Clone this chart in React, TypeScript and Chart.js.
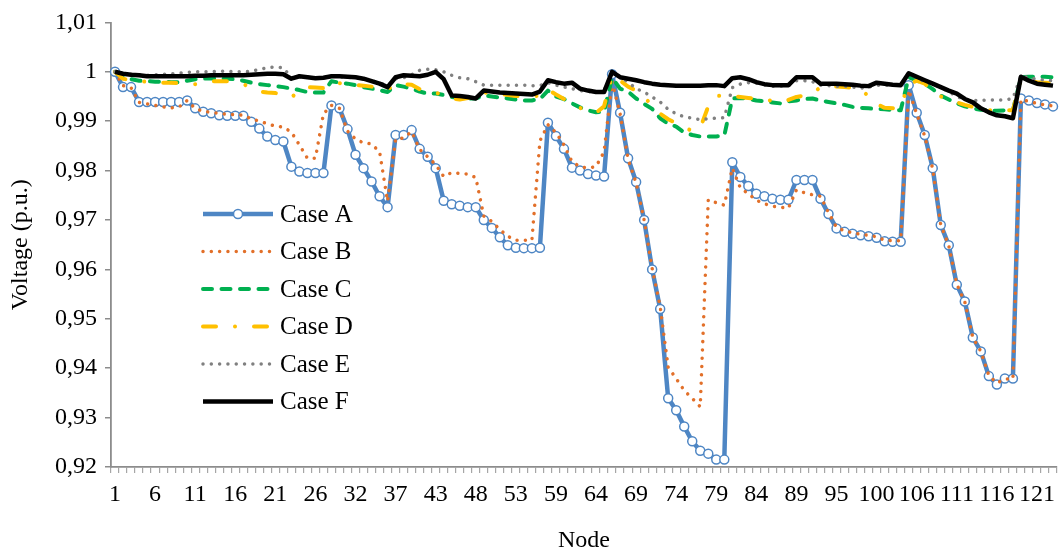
import React, { useEffect, useRef } from "react";
import { Chart, registerables } from "chart.js";

Chart.register(...registerables);

const nodes = [
  1, 2, 3, 4, 5, 6, 7, 8, 9, 10, 11, 12, 13, 14, 15, 16, 17, 18, 19, 20, 21, 22, 23, 24, 25, 26,
  28, 29, 30, 31, 32, 33, 34, 35, 36, 37, 38, 40, 41, 42, 43, 44, 45, 46, 47, 48, 49, 50, 51, 52, 53,
  54, 56, 57, 58, 59, 60, 61, 62, 63, 64, 65, 66, 67, 68, 69, 70, 71, 72, 73, 74, 75, 76, 77, 78, 79,
  80, 81, 82, 83, 84, 85, 86, 87, 88, 89, 90, 92, 93, 94, 95, 96, 97, 98, 99, 100, 101, 102, 104, 105,
  106, 107, 108, 109, 110, 111, 112, 113, 114, 115, 116, 117, 118, 119, 120, 121, 122, 123,
];

const caseA = [
  1.0, 0.9969, 0.9969, 0.9939, 0.9939, 0.9939, 0.9939, 0.9939, 0.9939, 0.9942,
  0.9926, 0.9919, 0.9916, 0.9912, 0.9911, 0.9911, 0.9911, 0.9899, 0.9885, 0.9869,
  0.9862, 0.9859, 0.9808, 0.9798, 0.9795, 0.9795, 0.9795, 0.9932, 0.9926, 0.9884,
  0.9832, 0.9805, 0.9778, 0.9748, 0.9726, 0.9872, 0.9872, 0.9882, 0.9844, 0.9828,
  0.9805, 0.9739, 0.9732, 0.9729, 0.9726, 0.9726, 0.97, 0.9684, 0.9665, 0.9649,
  0.9644, 0.9643, 0.9643, 0.9644, 0.9897, 0.987, 0.9844, 0.9806, 0.98, 0.9793,
  0.979, 0.9788, 0.9995, 0.9917, 0.9825, 0.9777, 0.97, 0.96, 0.952, 0.9339,
  0.9315, 0.9282, 0.9252, 0.9233, 0.9227, 0.9215, 0.9215, 0.9817, 0.9787, 0.9769,
  0.9753, 0.9748, 0.9743, 0.9741, 0.9741, 0.9781, 0.9781, 0.9781, 0.9743, 0.9712,
  0.9683, 0.9676, 0.9672, 0.9669, 0.9667, 0.9664, 0.9657, 0.9656, 0.9656, 0.9973,
  0.9917, 0.9872, 0.9805, 0.969, 0.9649, 0.9569, 0.9535, 0.9462, 0.9434, 0.9384,
  0.9367, 0.9379, 0.9379, 0.9946, 0.9942, 0.9937, 0.9934, 0.993,
];

const caseB = [
  1.0, 0.9972, 0.9968, 0.9938, 0.9935, 0.9932, 0.9929, 0.9927, 0.9929, 0.9942,
  0.9926, 0.992, 0.9918, 0.9916, 0.9914, 0.9913, 0.9912, 0.9905, 0.99, 0.9895,
  0.989, 0.9888, 0.9878, 0.9852, 0.9825, 0.9825, 0.9915, 0.9932, 0.9926, 0.988,
  0.9864, 0.9856, 0.9854, 0.9838, 0.9738, 0.9864, 0.9866, 0.9879, 0.9843, 0.9828,
  0.9812, 0.9788, 0.9796, 0.9794, 0.9793, 0.9786, 0.9708, 0.9697, 0.9681, 0.9667,
  0.9659, 0.9659, 0.9659, 0.986, 0.9893, 0.9877, 0.9852, 0.9818, 0.9808, 0.9805,
  0.9808, 0.9838, 0.998, 0.9915, 0.9823, 0.9775, 0.97, 0.9602, 0.9525, 0.9402,
  0.9379, 0.9355, 0.9339, 0.9322, 0.9741, 0.9735, 0.973, 0.9805, 0.9765, 0.9753,
  0.974, 0.9733, 0.9728, 0.9726, 0.9724, 0.9761, 0.9755, 0.9751, 0.9748, 0.9715,
  0.9685, 0.9678, 0.9674, 0.9671, 0.9669, 0.9666, 0.9659, 0.9658, 0.9658, 0.9963,
  0.9915, 0.987, 0.9803, 0.969, 0.9648, 0.957, 0.9534, 0.9462, 0.9434, 0.9385,
  0.937, 0.9378, 0.9378, 0.9944, 0.994, 0.9936, 0.9933, 0.9931,
];

const caseC = [
  1.0, 0.9989, 0.9985, 0.9982, 0.9981, 0.998, 0.998, 0.9979, 0.9979, 0.9982,
  0.9985, 0.9986, 0.9987, 0.9986, 0.9986, 0.9985, 0.9982, 0.9978, 0.9975, 0.9973,
  0.9971, 0.9969, 0.9966, 0.9963, 0.9959, 0.9958, 0.9958, 0.9981, 0.9978, 0.9976,
  0.9973, 0.9969, 0.9966, 0.9963, 0.9959, 0.9973, 0.997, 0.9966, 0.996, 0.9956,
  0.9956, 0.9953, 0.9949, 0.9947, 0.9946, 0.9946, 0.9952, 0.995, 0.9948, 0.9946,
  0.9944, 0.9942, 0.9942, 0.9945, 0.9962, 0.995, 0.9945, 0.9936, 0.9928, 0.9922,
  0.9918, 0.9919, 0.9988, 0.9966, 0.996, 0.9946, 0.9935, 0.9925, 0.9906, 0.9895,
  0.9889, 0.9877, 0.9872, 0.9869, 0.9869, 0.9869, 0.9871, 0.9946, 0.9947, 0.9945,
  0.9942, 0.994, 0.9938, 0.9936, 0.994, 0.9942, 0.9945, 0.9946, 0.9942, 0.9939,
  0.9936, 0.9933, 0.9929, 0.9927, 0.9926, 0.9925, 0.9924, 0.9923, 0.9922, 0.9989,
  0.9982, 0.9976, 0.9965, 0.9952, 0.9944, 0.9936, 0.993, 0.9926, 0.9923, 0.9922,
  0.9921, 0.9922, 0.9922, 0.9989, 0.999, 0.999, 0.999, 0.9989,
];

const caseD = [
  1.0, 0.9986, 0.9983, 0.9981, 0.998, 0.9979, 0.9978, 0.9978, 0.9977, 0.9976,
  0.9975, 0.9979, 0.9981, 0.9981, 0.9981, 0.9978, 0.9975, 0.9968, 0.996, 0.9958,
  0.9957, 0.9954, 0.9948, 0.9962, 0.9969, 0.9968, 0.9967, 0.9979, 0.9977, 0.9975,
  0.9973, 0.9972, 0.997, 0.9967, 0.9964, 0.9976, 0.9975, 0.9974, 0.9965, 0.9961,
  0.9958, 0.9952, 0.9946, 0.9944, 0.9947, 0.9946, 0.9958, 0.9957, 0.9955, 0.9953,
  0.9951, 0.995, 0.995, 0.9952, 0.9964, 0.9954, 0.9945, 0.9936, 0.9927, 0.9921,
  0.9917, 0.993, 0.9992, 0.9982, 0.997, 0.9962, 0.9948, 0.9933, 0.9915, 0.9904,
  0.9896, 0.9888, 0.988, 0.9886, 0.993, 0.9951, 0.9952, 0.9951, 0.9949, 0.9947,
  0.9945, 0.9944, 0.9941, 0.9938, 0.9943, 0.9949, 0.9952, 0.9956, 0.9969, 0.997,
  0.997, 0.9969, 0.9968, 0.9966, 0.995, 0.9935, 0.9927, 0.9926, 0.993, 0.9975,
  0.9982, 0.9976, 0.996, 0.995, 0.9944, 0.9938, 0.9933, 0.9929, 0.9924, 0.9922,
  0.9922, 0.9922, 0.9922, 0.9985, 0.9982, 0.9979, 0.9978, 0.9977,
];

const caseE = [
  1.0, 0.9996, 0.9995, 0.9994, 0.9993, 0.9994, 0.9995, 0.9996, 0.9997, 0.9999,
  1.0, 1.0, 1.0, 1.0001, 1.0001, 1.0, 1.0, 1.0001, 1.0005, 1.0008,
  1.001, 1.0008, 0.9988, 0.999, 0.9989, 0.9988, 0.9988, 0.9991, 0.999, 0.9989,
  0.9988, 0.9986, 0.9982, 0.9978, 0.9972, 0.9986, 0.9988, 0.9994, 1.0003, 1.0005,
  1.0004, 1.0, 0.9993, 0.9988, 0.9986, 0.998, 0.9973, 0.9973, 0.9973, 0.9973,
  0.9973, 0.9973, 0.9972, 0.9972, 0.9978, 0.9973, 0.9969, 0.9966, 0.9962, 0.996,
  0.9959, 0.9962, 0.9998, 0.999, 0.9979, 0.9966, 0.9959, 0.9949, 0.9939, 0.9924,
  0.9915, 0.9909, 0.9906, 0.9903, 0.9905, 0.9906, 0.9907, 0.9968, 0.9975, 0.9978,
  0.9977, 0.9974, 0.9971, 0.9971, 0.9972, 0.9982, 0.9982, 0.998, 0.9973, 0.9972,
  0.9971, 0.9971, 0.9969, 0.9967, 0.9969, 0.9973, 0.9973, 0.9973, 0.9974, 0.9995,
  0.9988, 0.998, 0.9975, 0.9968, 0.996, 0.995, 0.9944, 0.9942, 0.9942, 0.9943,
  0.9943, 0.9943, 0.9946, 0.9992, 0.9988, 0.9985, 0.9983, 0.9982,
];

const caseF = [
  1.0, 0.9996, 0.9994, 0.9993, 0.9991, 0.9991, 0.9991, 0.9991, 0.9991, 0.9991,
  0.9992, 0.9992, 0.9993, 0.9993, 0.9993, 0.9993, 0.9993, 0.9994, 0.9995, 0.9996,
  0.9996, 0.9995, 0.9986, 0.9991, 0.9989, 0.9987, 0.9988, 0.9991, 0.9991, 0.999,
  0.9989, 0.9986, 0.9981, 0.9976, 0.9969, 0.9989, 0.9993, 0.9992, 0.9991, 0.9994,
  1.0, 0.9985, 0.9952, 0.9951, 0.9949, 0.9946, 0.9962, 0.996, 0.9958, 0.9957,
  0.9956, 0.9955, 0.9954, 0.996, 0.9983, 0.9979, 0.9976, 0.9978, 0.9966, 0.9962,
  0.9959, 0.9959, 1.0, 0.9989, 0.9986, 0.9983, 0.9979, 0.9976, 0.9974, 0.9973,
  0.9972, 0.9972, 0.9972, 0.9972, 0.9973, 0.9973, 0.9971, 0.9987, 0.9989, 0.9985,
  0.9979, 0.9975, 0.9973, 0.9973, 0.9973, 0.9989, 0.9989, 0.9989, 0.9976, 0.9976,
  0.9976, 0.9975, 0.9974, 0.9972, 0.9971, 0.9978, 0.9976, 0.9974, 0.9973, 0.9997,
  0.999, 0.9983, 0.9976, 0.9969, 0.9962, 0.9956, 0.9945, 0.9938, 0.9926, 0.9918,
  0.9912, 0.991, 0.9906, 0.999, 0.9982, 0.9976, 0.9974, 0.9972,
];

const seriesNames = ["Case A", "Case B", "Case C", "Case D", "Case E", "Case F"];
const yTicks = [0.92, 0.93, 0.94, 0.95, 0.96, 0.97, 0.98, 0.99, 1.0, 1.01];

const FONT = "'Liberation Serif', 'DejaVu Serif', serif";

const legendPlugin = {
  id: "insideLegend",
  afterDraw(chart: any) {
    const ctx = chart.ctx;
    const x0 = 203;
    const x1 = 273;
    const tx = 280;
    const ys = [214, 251.5, 289, 326.5, 364, 401.5];
    chart.data.datasets.forEach((ds: any, i: number) => {
      const y = ys[i];
      ctx.save();
      ctx.strokeStyle = ds.borderColor;
      ctx.lineWidth = ds.borderWidth;
      ctx.lineCap = ds.borderCapStyle || "butt";
      ctx.setLineDash(ds.borderDash || []);
      ctx.beginPath();
      ctx.moveTo(x0, y);
      ctx.lineTo(x1, y);
      ctx.stroke();
      ctx.setLineDash([]);
      if (ds.pointRadius > 0) {
        ctx.beginPath();
        ctx.arc((x0 + x1) / 2, y, ds.pointRadius, 0, Math.PI * 2);
        ctx.fillStyle = ds.pointBackgroundColor;
        ctx.fill();
        ctx.lineWidth = ds.pointBorderWidth;
        ctx.strokeStyle = ds.pointBorderColor;
        ctx.stroke();
      }
      ctx.fillStyle = "#000";
      ctx.font = `25px ${FONT}`;
      ctx.textBaseline = "middle";
      ctx.textAlign = "left";
      ctx.fillText(ds.label, tx, y + 1);
      ctx.restore();
    });
  },
};

export default function App() {
  const ref = useRef<HTMLCanvasElement | null>(null);

  useEffect(() => {
    document.body.style.margin = "0";
    if (!ref.current) return;
    const common = { tension: 0, fill: false, pointHitRadius: 0, borderJoinStyle: "round" };
    const chart = new Chart(ref.current, {
      type: "line",
      data: {
        labels: nodes.map(String),
        datasets: [
          {
            ...common,
            label: seriesNames[0],
            data: caseA,
            borderColor: "#4e86c4",
            borderWidth: 4.5,
            pointRadius: 4.5,
            pointBorderWidth: 1.5,
            pointBackgroundColor: "#ffffff",
            pointBorderColor: "#4e86c4",
            order: 6,
          },
          {
            ...common,
            label: seriesNames[1],
            data: caseB,
            borderColor: "#e2702a",
            borderWidth: 3.5,
            borderDash: [0.01, 8.3],
            borderCapStyle: "round",
            pointRadius: 0,
            order: 5,
          },
          {
            ...common,
            label: seriesNames[2],
            data: caseC,
            borderColor: "#00b050",
            borderWidth: 4,
            borderDash: [9, 9.5],
            borderCapStyle: "round",
            pointRadius: 0,
            order: 4,
          },
          {
            ...common,
            label: seriesNames[3],
            data: caseD,
            borderColor: "#ffc000",
            borderWidth: 4,
            borderDash: [13, 19, 0.01, 19],
            borderCapStyle: "round",
            pointRadius: 0,
            order: 3,
          },
          {
            ...common,
            label: seriesNames[4],
            data: caseE,
            borderColor: "#808080",
            borderWidth: 3.5,
            borderDash: [0.01, 8.3],
            borderCapStyle: "round",
            pointRadius: 0,
            order: 2,
          },
          {
            ...common,
            label: seriesNames[5],
            data: caseF,
            borderColor: "#000000",
            borderWidth: 4.5,
            pointRadius: 0,
            order: 1,
          },
        ],
      },
      options: {
        animation: false,
        responsive: true,
        maintainAspectRatio: false,
        layout: { padding: { top: 20, right: 5, left: 0, bottom: 0 } },
        plugins: { legend: { display: false }, tooltip: { enabled: false } },
        scales: {
          x: {
            type: "category",
            offset: true,
            grid: {
              display: true,
              drawOnChartArea: false,
              offset: true,
              tickLength: 6,
              color: "#a6a6a6",
              lineWidth: 1.2,
            },
            border: { display: true, color: "#8c8c8c", width: 1.8 },
            ticks: {
              autoSkip: false,
              maxRotation: 0,
              minRotation: 0,
              padding: 7,
              color: "#000",
              font: { family: FONT, size: 24 },
              callback: (_v: any, i: number) => (i % 5 === 0 ? String(nodes[i]) : ""),
            },
            title: {
              display: true,
              text: "Node",
              color: "#000",
              font: { family: FONT, size: 24, lineHeight: 1 },
              padding: { top: 0, bottom: 0 },
            },
            afterFit: (s: any) => {
              s.height = 86;
            },
          },
          y: {
            min: 0.92,
            max: 1.01,
            afterBuildTicks: (s: any) => {
              s.ticks = yTicks.map((v) => ({ value: v }));
            },
            grid: {
              display: true,
              drawOnChartArea: false,
              tickLength: 6,
              color: "#8c8c8c",
              lineWidth: 1.5,
            },
            border: { display: true, color: "#8c8c8c", width: 1.8 },
            ticks: {
              padding: 8,
              color: "#000",
              font: { family: FONT, size: 24 },
              callback: (v: any) => String(+Number(v).toFixed(2)).replace(".", ","),
            },
            title: {
              display: true,
              text: "Voltage (p.u.)",
              color: "#000",
              font: { family: FONT, size: 24 },
              padding: { top: 6, bottom: 0 },
            },
            afterFit: (s: any) => {
              s.width = 111;
            },
          },
        },
      },
      plugins: [legendPlugin],
    } as any);
    return () => chart.destroy();
  }, []);

  return (
    <div style={{ width: 1063, height: 553, position: "relative", overflow: "hidden", background: "#fff" }}>
      <canvas ref={ref} />
    </div>
  );
}
